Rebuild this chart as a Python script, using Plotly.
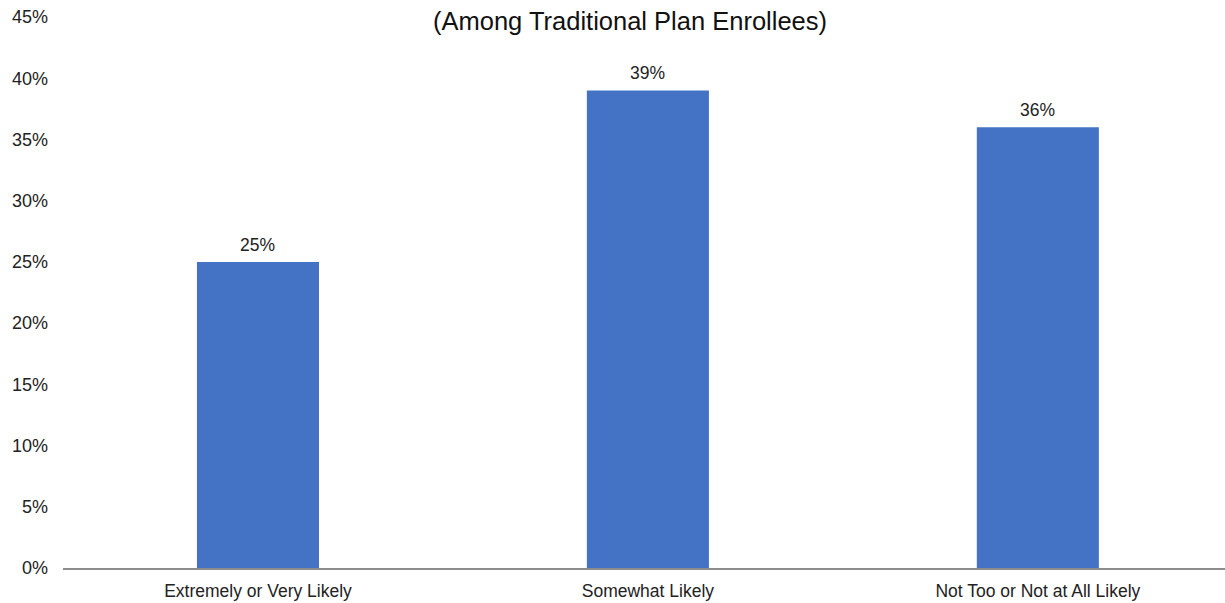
import plotly.graph_objects as go

categories = ["Extremely or Very Likely", "Somewhat Likely", "Not Too or Not at All Likely"]
values = [0.25, 0.39, 0.36]
labels = ["25%", "39%", "36%"]
title_text = "(Among Traditional Plan Enrollees)"

W, H = 1225, 603
FONT = "Liberation Sans, Arial, sans-serif"
fig = go.Figure()
fig.add_trace(go.Bar(
    x=categories, y=values, width=0.313,
    marker=dict(color="#4472C4", line=dict(width=0)),
    hoverinfo="skip",
))

for c, v, t in zip(categories, values, labels):
    fig.add_annotation(x=c, y=v, text=t, showarrow=False, yanchor="bottom",
                       yshift=5, font=dict(size=17.5, color="#222222", family=FONT))

top, bottom = 16.7, 568.5
fig.add_annotation(text=title_text, xref="paper", yref="paper",
                   x=(630 - 63) / (W - 63), y=1 - (21 - top) / (bottom - top),
                   xanchor="center", yanchor="middle", showarrow=False,
                   font=dict(size=25.5, color="#111111", family=FONT))

fig.update_layout(
    width=W, height=H,
    margin=dict(l=63, r=0, t=top, b=H - bottom, autoexpand=False),
    plot_bgcolor="white", paper_bgcolor="white",
    showlegend=False,
    font=dict(family=FONT, size=17.5, color="#222222"),
    xaxis=dict(range=[-0.5, 2.48], showline=True, linecolor="#8c8c8c", linewidth=1.5,
               ticks="", showgrid=False, tickfont=dict(size=17.5), ticklabelstandoff=6,
               automargin=False),
    yaxis=dict(range=[0, 0.45], dtick=0.05, tickformat=".0%", showgrid=False,
               zeroline=False, showline=False, ticks="", tickfont=dict(size=18),
               ticklabelstandoff=14, automargin=False),
)

fig.write_html("out.html", config={"displayModeBar": False},
               post_script="document.body.style.margin='0';document.body.style.overflow='hidden';")
